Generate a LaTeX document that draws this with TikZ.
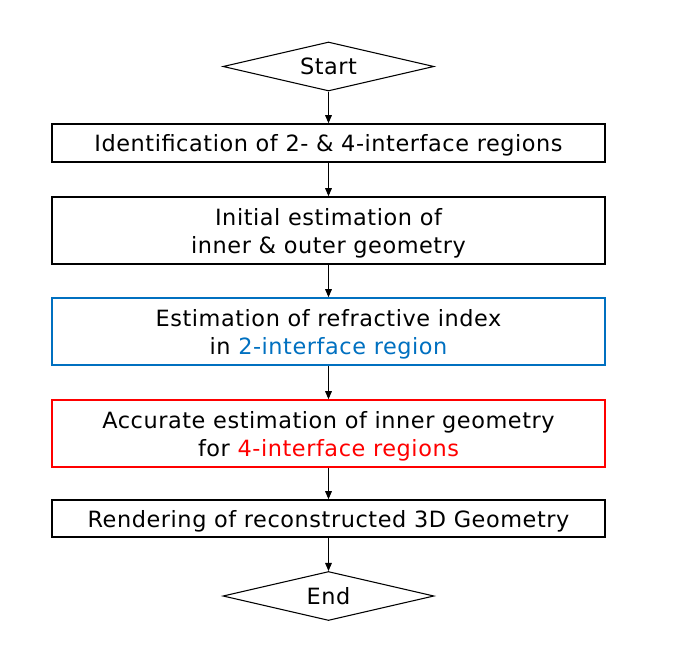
\documentclass[tikz,border=0pt]{standalone}
\usepackage{fontspec}
\setmainfont{DejaVu Sans}[LetterSpace=2.5]
\usetikzlibrary{arrows.meta,shapes.geometric}
\definecolor{stepblue}{RGB}{0,112,192}
\definecolor{stepred}{RGB}{255,0,0}

\begin{document}
\begin{tikzpicture}[x=0.75pt,y=-0.75pt,font=\fontsize{16.8}{21}\selectfont,
    stepbox/.style={draw,line width=1.2pt,minimum width=414.75pt,align=center,
      inner sep=2pt,text depth=0pt},
    term/.style={draw,diamond,aspect=4.3,line width=0.8pt,inner sep=0pt,
      minimum width=158.25pt,minimum height=36.75pt},
    flow/.style={-{Triangle[length=6pt,width=5pt]},line width=0.7pt}]
  \useasboundingbox (0,0) rectangle (678,649);
  \node[term] (start) at (328.5,66.5) {Start};
  \node[stepbox,minimum height=28.5pt] (ident) at (328.5,143)
    {Identification of 2- \& 4-interface regions};
  \node[stepbox,minimum height=50.25pt] (init) at (328.5,230.5)
    {Initial estimation of\\inner \& outer geometry};
  \node[stepbox,draw=stepblue,minimum height=50.25pt] (refr) at (328.5,331.5)
    {Estimation of refractive index\\in \textcolor{stepblue}{2-interface region}};
  \node[stepbox,draw=stepred,minimum height=50.25pt] (accu) at (328.5,433.5)
    {Accurate estimation of inner geometry\\for \textcolor{stepred}{4-interface regions}};
  \node[stepbox,minimum height=27.75pt] (rend) at (328.5,518.5)
    {Rendering of reconstructed 3D Geometry};
  \node[term] (end) at (328.5,596) {End};
  \foreach \a/\b in {start/ident,ident/init,init/refr,refr/accu,accu/rend,rend/end}
    \draw[flow] (\a) -- (\b);
\end{tikzpicture}
\end{document}
